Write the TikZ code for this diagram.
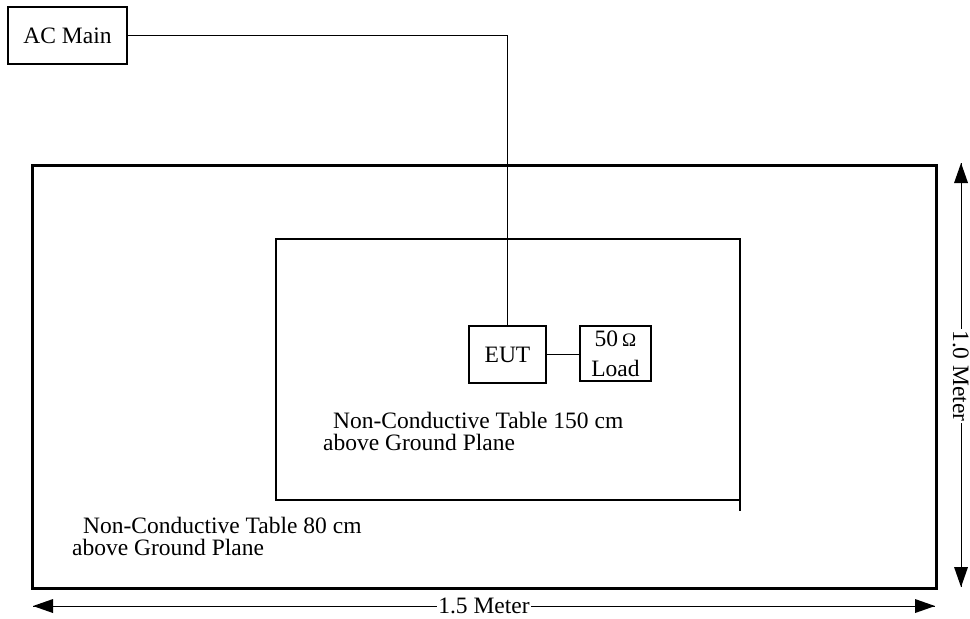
\documentclass[tikz,border=0pt]{standalone}
\usepackage{fontspec}
\setmainfont{Liberation Serif}
\begin{document}
\begin{tikzpicture}[scale=0.3528]
                      \tikzstyle{every node}+=[inner sep=0pt, font=\fontsize{23.5bp}{21.5bp}\selectfont]
                      \tikzstyle{unitbox}=[draw, black, line width=1.3bp]
                      \tikzstyle{dimlabel}=[fill=white, inner sep=1bp, text depth=0pt]
                      \useasboundingbox (0,0) rectangle (97,-61.8);
                      \draw [black, line width=3bp] (3.2,-16.5) rectangle (93.6,-58.8);
                      \draw [black, line width=1.3bp] (27.6,-23.9) rectangle (74,-50);
                      \draw [black, line width=1.3bp] (74,-50) -- (74,-51.1);
                      \node [unitbox, minimum width=119bp, minimum height=57bp] (acmain) at (6.75,-3.55) {AC Main};
                      \node [unitbox, minimum width=77bp, minimum height=57bp] (eut) at (50.75,-35.45) {EUT};
                      \node [unitbox, minimum width=71bp, minimum height=55bp, align=center, font=\fontsize{23.5bp}{30bp}\selectfont] (load) at (61.55,-35.35) {50\,{\fontsize{19bp}{19bp}\selectfont Ω}\\Load};
                      \draw [black, line width=1bp] (acmain.east) -| (eut.north);
                      \draw [black, line width=1bp] (eut.east) -- (eut.east -| load.west);
                      \node [anchor=north west, align=left] (upper) at (32.3,-41.2) {\hspace*{10bp}Non-Conductive Table 150 cm\\above Ground Plane};
                      \node [anchor=north west, align=left] (lower) at (7.2,-51.7) {\hspace*{11bp}Non-Conductive Table 80 cm\\above Ground Plane};
                      \coordinate (hleft) at (3.3,-60.6);
                      \coordinate (hright) at (93.5,-60.6);
                      \draw [black, line width=1bp] (hleft) -- (hright);
                      \fill [black] (hleft) -- ++(2,0.7) -- ++(0,-1.4) -- cycle;
                      \fill [black] (hright) -- ++(-2,0.7) -- ++(0,-1.4) -- cycle;
                      \node [dimlabel, anchor=base] (hlabel) at (48.4,-61.3) {1.5 Meter};
                      \coordinate (vtop) at (96.1,-16.3);
                      \coordinate (vbottom) at (96.1,-58.7);
                      \draw [black, line width=1bp] (vtop) -- (vbottom);
                      \fill [black] (vtop) -- ++(0.7,-2) -- ++(-1.4,0) -- cycle;
                      \fill [black] (vbottom) -- ++(0.7,2) -- ++(-1.4,0) -- cycle;
                      \node [dimlabel, rotate=-90] (vlabel) at (96.1,-37.6) {1.0 Meter};
                  \end{tikzpicture}
\end{document}
